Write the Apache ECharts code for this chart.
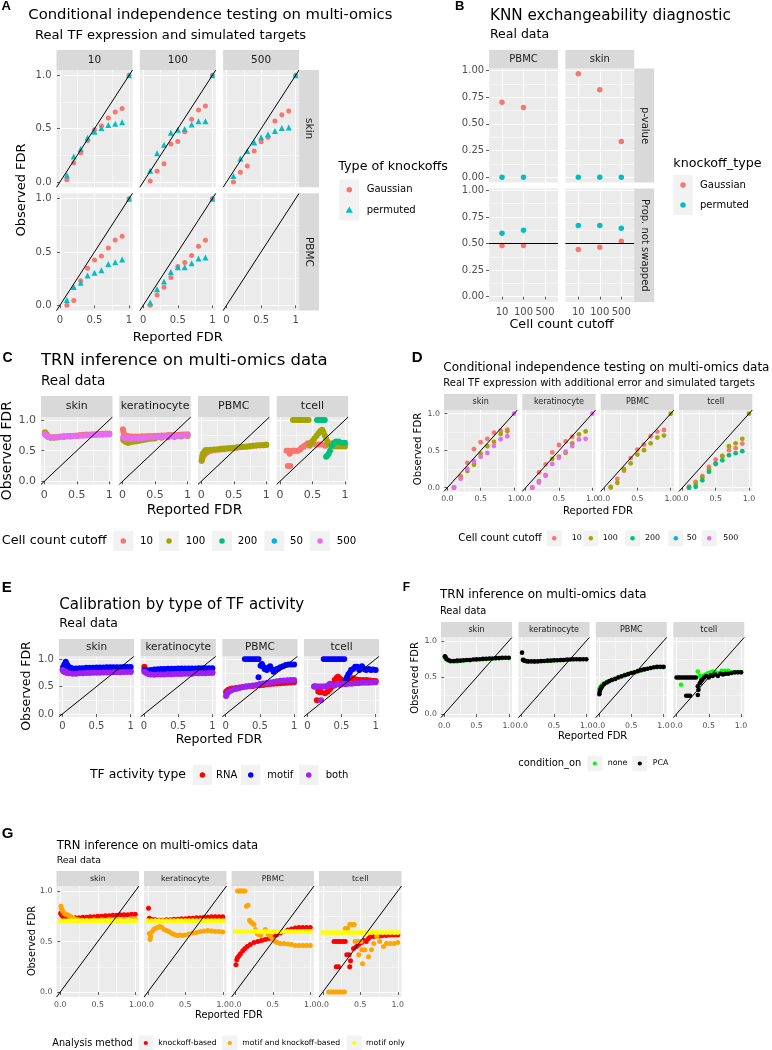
<!DOCTYPE html>
<html><head><meta charset="utf-8">
<script src="https://cdn.jsdelivr.net/npm/echarts@6/dist/echarts.min.js"></script>
<style>html,body{margin:0;padding:0;background:#fff}#c{width:772px;height:1050px}</style>
</head><body><div id="c"></div><script>
// ---------------- DATA ----------------
// Panel A : Conditional independence testing (x = reported FDR, y = observed FDR)
const A_cutoffs = ['10','100','500'];
const A_tissues = ['skin','PBMC'];
const A_knockoffTypes = ['Gaussian','permuted'];
const A_skin_10_gauss = [[0.1,0.02],[0.2,0.18],[0.3,0.275],[0.4,0.39],[0.5,0.49],[0.6,0.525],[0.7,0.6],[0.8,0.656],[0.9,0.688],[1.0,1.0]];
const A_skin_10_perm = [[0.1,0.0625],[0.2,0.24],[0.3,0.31],[0.4,0.415],[0.5,0.47],[0.6,0.505],[0.7,0.535],[0.8,0.545],[0.9,0.56],[1.0,1.0]];
const A_skin_100_gauss = [[0.1,0.01],[0.2,0.1],[0.3,0.17],[0.4,0.356],[0.5,0.38],[0.6,0.47],[0.7,0.587],[0.8,0.675],[0.9,0.712],[1.0,1.0]];
const A_skin_100_perm = [[0.1,0.106],[0.2,0.27],[0.3,0.35],[0.4,0.4625],[0.5,0.49],[0.6,0.497],[0.7,0.54],[0.8,0.57],[0.9,0.57],[1.0,1.0]];
const A_skin_500_gauss = [[0.1,0.0],[0.2,0.09],[0.3,0.15],[0.4,0.29],[0.5,0.378],[0.6,0.42],[0.7,0.572],[0.8,0.63],[0.9,0.666],[1.0,1.0]];
const A_skin_500_perm = [[0.1,0.056],[0.2,0.22],[0.3,0.29],[0.4,0.37],[0.5,0.42],[0.6,0.447],[0.7,0.478],[0.8,0.506],[0.9,0.51],[1.0,1.0]];
const A_PBMC_10_gauss = [[0.1,0.0],[0.2,0.044],[0.3,0.23],[0.4,0.347],[0.5,0.425],[0.6,0.4625],[0.7,0.5375],[0.8,0.6125],[0.9,0.647],[1.0,1.0]];
const A_PBMC_10_perm = [[0.1,0.05],[0.2,0.172],[0.3,0.21],[0.4,0.28],[0.5,0.306],[0.6,0.328],[0.7,0.3875],[0.8,0.403],[0.9,0.43],[1.0,1.0]];
const A_PBMC_100_gauss = [[0.1,0.0],[0.2,0.097],[0.3,0.169],[0.4,0.26],[0.5,0.3625],[0.6,0.4],[0.7,0.466],[0.8,0.553],[0.9,0.61],[1.0,1.0]];
const A_PBMC_100_perm = [[0.1,0.025],[0.2,0.15],[0.3,0.222],[0.4,0.3125],[0.5,0.356],[0.6,0.356],[0.7,0.394],[0.8,0.4375],[0.9,0.447],[1.0,1.0]];

// Panel B : KNN exchangeability diagnostic
const B_cutoffs = ['10','100','500'];
const B_tissues = ['PBMC','skin'];
const B_rows = ['p-value','Prop. not swapped'];
const B_pval_PBMC_gauss = [['10',0.703],['100',0.653]];
const B_pval_PBMC_perm = [['10',0.0],['100',0.0]];
const B_pval_skin_gauss = [['10',0.969],['100',0.819],['500',0.334]];
const B_pval_skin_perm = [['10',0.0],['100',0.0],['500',0.0]];
const B_prop_PBMC_gauss = [['10',0.481],['100',0.481]];
const B_prop_PBMC_perm = [['10',0.597],['100',0.626]];
const B_prop_skin_gauss = [['10',0.443],['100',0.465],['500',0.522]];
const B_prop_skin_perm = [['10',0.67],['100',0.67],['500',0.645]];
const B_refLevel = 0.5;

// Panel C : TRN inference, by cell count cutoff
const cellTypes = ['skin','keratinocyte','PBMC','tcell'];
const C_levels = ['10','100','200','50','500'];
const C_skin_10 = [[0.01,0.78],[0.03,0.76],[0.05,0.74],[0.08,0.725],[0.1,0.72],[0.15,0.72],[0.2,0.725],[0.25,0.73],[0.3,0.735],[0.35,0.74],[0.4,0.74],[0.45,0.745],[0.5,0.75],[0.55,0.755],[0.6,0.76],[0.65,0.765],[0.7,0.765],[0.75,0.77],[0.8,0.77],[0.85,0.775],[0.9,0.775],[0.95,0.78],[1.0,0.78]];
const C_skin_100 = [[0.01,0.80],[0.02,0.79],[0.04,0.76],[0.07,0.72],[0.1,0.71],[0.15,0.71],[0.2,0.715],[0.3,0.725],[0.4,0.73],[0.5,0.74],[0.6,0.75],[0.7,0.755],[0.8,0.76],[0.9,0.765],[1.0,0.77]];
const C_skin_500 = [[0.01,0.77],[0.03,0.75],[0.05,0.73],[0.08,0.72],[0.1,0.715],[0.15,0.715],[0.2,0.72],[0.25,0.725],[0.3,0.73],[0.35,0.73],[0.4,0.735],[0.45,0.74],[0.5,0.74],[0.55,0.745],[0.6,0.75],[0.65,0.75],[0.7,0.755],[0.75,0.755],[0.8,0.76],[0.85,0.76],[0.9,0.765],[0.95,0.765],[1.0,0.77]];
const C_ker_10 = [[0.005,0.85],[0.01,0.82],[0.02,0.78],[0.04,0.75],[0.07,0.74],[0.1,0.735],[0.15,0.73],[0.2,0.73],[0.25,0.73],[0.3,0.735],[0.35,0.735],[0.4,0.74],[0.45,0.74],[0.5,0.745],[0.55,0.745],[0.6,0.75],[0.65,0.75],[0.7,0.755],[0.75,0.755],[0.8,0.76],[0.85,0.76],[0.9,0.765],[0.95,0.765],[1.0,0.77]];
const C_ker_100 = [[0.01,0.68],[0.03,0.66],[0.05,0.64],[0.08,0.63],[0.1,0.63],[0.15,0.64],[0.2,0.65],[0.25,0.66],[0.3,0.67],[0.35,0.68],[0.4,0.69],[0.45,0.695],[0.5,0.70],[0.6,0.71],[0.7,0.72],[0.8,0.725],[0.9,0.73],[1.0,0.74]];
const C_ker_500 = [[0.01,0.72],[0.03,0.71],[0.05,0.70],[0.08,0.695],[0.1,0.695],[0.15,0.695],[0.2,0.70],[0.25,0.70],[0.3,0.705],[0.35,0.71],[0.4,0.715],[0.45,0.715],[0.5,0.72],[0.55,0.725],[0.6,0.725],[0.65,0.73],[0.7,0.735],[0.75,0.735],[0.8,0.74],[0.85,0.74],[0.9,0.745],[0.95,0.75],[1.0,0.75]];
const C_PBMC_10 = [[0.005,0.33],[0.01,0.36],[0.02,0.39],[0.03,0.41],[0.05,0.44],[0.07,0.46],[0.1,0.48],[0.15,0.5],[0.2,0.51],[0.25,0.515],[0.3,0.52],[0.35,0.525],[0.4,0.53],[0.45,0.535],[0.5,0.54],[0.55,0.55],[0.6,0.555],[0.65,0.56],[0.7,0.565],[0.75,0.57],[0.8,0.58],[0.85,0.585],[0.9,0.59],[0.95,0.595],[1.0,0.6]];
const C_PBMC_100 = [[0.01,0.35],[0.015,0.4],[0.02,0.43],[0.03,0.46],[0.05,0.49],[0.07,0.51],[0.1,0.51],[0.15,0.515],[0.2,0.52],[0.25,0.525],[0.3,0.53],[0.35,0.535],[0.4,0.54],[0.45,0.545],[0.5,0.55],[0.55,0.555],[0.6,0.56],[0.65,0.565],[0.7,0.57],[0.75,0.575],[0.8,0.58],[0.85,0.585],[0.9,0.59],[0.95,0.59],[1.0,0.595]];
const C_tcell_10 = [[0.1,0.5],[0.13,0.5],[0.15,0.45],[0.12,0.25],[0.16,0.25],[0.18,0.5],[0.2,0.5],[0.22,0.5],[0.25,0.5],[0.28,0.5],[0.31,0.52],[0.33,0.55],[0.36,0.56],[0.38,0.58],[0.41,0.6],[0.43,0.62],[0.46,0.58],[0.5,0.62],[0.55,0.6],[0.6,0.6],[0.65,0.6],[0.7,0.58],[0.75,0.6],[0.8,0.62],[0.85,0.62],[0.9,0.6],[0.95,0.6],[1.0,0.6]];
const C_tcell_100 = [[0.2,1.0],[0.23,1.0],[0.26,1.0],[0.29,1.0],[0.32,1.0],[0.35,1.0],[0.38,1.0],[0.41,1.0],[0.44,1.0],[0.46,0.6],[0.48,0.63],[0.5,0.66],[0.53,0.7],[0.56,0.74],[0.59,0.78],[0.62,0.82],[0.65,0.84],[0.67,0.8],[0.69,0.75],[0.71,0.7],[0.73,0.65],[0.75,0.6],[0.8,0.58],[0.85,0.57],[0.9,0.57],[0.95,0.57],[1.0,0.57]];
const C_tcell_200 = [[0.57,1.0],[0.6,1.0],[0.63,1.0],[0.66,1.0],[0.69,1.0],[0.71,0.4],[0.73,0.42],[0.75,0.45],[0.77,0.5],[0.8,0.58],[0.83,0.62],[0.86,0.65],[0.9,0.65],[0.95,0.63],[1.0,0.63]];

// Panel D : Conditional independence testing with additional error
const D_skin_10 = [[0.1,0.0],[0.2,0.157],[0.3,0.336],[0.4,0.52],[0.5,0.614],[0.6,0.66],[0.7,0.744],[0.8,0.771],[0.9,0.785]];
const D_skin_100 = [[0.1,0.0],[0.2,0.14],[0.3,0.224],[0.4,0.31],[0.5,0.46],[0.6,0.56],[0.7,0.62],[0.8,0.726],[0.9,0.762]];
const D_skin_500 = [[0.1,0.005],[0.2,0.12],[0.3,0.255],[0.4,0.36],[0.5,0.417],[0.6,0.47],[0.7,0.565],[0.8,0.655],[0.9,0.695],[1.0,1.0]];
const D_ker_10 = [[0.1,0.0],[0.2,0.207],[0.3,0.315],[0.4,0.477],[0.5,0.577],[0.6,0.626],[0.7,0.689]];
const D_ker_100 = [[0.1,0.0],[0.2,0.09],[0.3,0.17],[0.4,0.39],[0.5,0.42],[0.6,0.47],[0.7,0.6],[0.8,0.72],[0.9,0.76]];
const D_ker_500 = [[0.1,0.0],[0.2,0.07],[0.3,0.16],[0.4,0.32],[0.5,0.405],[0.6,0.486],[0.7,0.563],[0.8,0.652],[0.9,0.66],[1.0,1.0]];
const D_PBMC_10 = [[0.1,0.0],[0.2,0.12],[0.3,0.23],[0.4,0.4],[0.5,0.515],[0.6,0.583],[0.7,0.695],[0.8,0.758],[0.9,0.78]];
const D_PBMC_100 = [[0.1,0.01],[0.2,0.067],[0.3,0.25],[0.4,0.33],[0.5,0.448],[0.6,0.507],[0.7,0.6],[0.8,0.677],[0.9,0.704],[1.0,1.0]];
const D_tcell_10 = [[0.1,0.013],[0.2,0.08],[0.3,0.157],[0.4,0.28],[0.5,0.38],[0.6,0.42],[0.7,0.507],[0.8,0.534],[0.9,0.596]];
const D_tcell_100 = [[0.1,0.0],[0.2,0.05],[0.3,0.14],[0.4,0.25],[0.5,0.33],[0.6,0.43],[0.7,0.56],[0.8,0.6],[0.9,0.66],[1.0,1.0]];
const D_tcell_200 = [[0.1,0.0],[0.2,0.013],[0.3,0.1],[0.4,0.215],[0.5,0.32],[0.6,0.37],[0.7,0.44],[0.8,0.466],[0.9,0.493]];

// Panel E : Calibration by type of TF activity
const E_levels = ['RNA','motif','both'];
const E_skin_RNA = [[0.005,0.8],[0.02,0.78],[0.05,0.76],[0.1,0.75],[0.2,0.75],[0.3,0.755],[0.4,0.76],[0.5,0.765],[0.6,0.77],[0.7,0.77],[0.8,0.775],[0.9,0.78],[1.0,0.78]];
const E_skin_motif = [[0.01,0.85],[0.03,0.9],[0.05,0.95],[0.07,0.9],[0.09,0.86],[0.12,0.84],[0.15,0.83],[0.2,0.83],[0.25,0.835],[0.3,0.835],[0.35,0.84],[0.4,0.84],[0.45,0.84],[0.5,0.845],[0.55,0.845],[0.6,0.845],[0.65,0.85],[0.7,0.85],[0.75,0.85],[0.8,0.85],[0.85,0.85],[0.9,0.855],[0.95,0.855],[1.0,0.855]];
const E_skin_both = [[0.005,0.80],[0.02,0.78],[0.04,0.76],[0.07,0.745],[0.1,0.74],[0.15,0.735],[0.2,0.735],[0.25,0.74],[0.3,0.74],[0.35,0.745],[0.4,0.745],[0.45,0.75],[0.5,0.75],[0.55,0.75],[0.6,0.755],[0.65,0.755],[0.7,0.755],[0.75,0.76],[0.8,0.76],[0.85,0.76],[0.9,0.765],[0.95,0.765],[1.0,0.765]];
const E_ker_RNA = [[0.005,0.86],[0.015,0.8],[0.03,0.77],[0.06,0.75],[0.1,0.745],[0.2,0.74],[0.3,0.74],[0.4,0.745],[0.5,0.745],[0.6,0.75],[0.7,0.75],[0.8,0.755],[0.9,0.755],[1.0,0.76]];
const E_ker_motif = [[0.005,0.8],[0.03,0.79],[0.06,0.79],[0.1,0.8],[0.15,0.81],[0.2,0.815],[0.25,0.82],[0.3,0.82],[0.35,0.825],[0.4,0.825],[0.45,0.825],[0.5,0.83],[0.55,0.83],[0.6,0.83],[0.65,0.83],[0.7,0.83],[0.75,0.83],[0.8,0.835],[0.85,0.835],[0.9,0.835],[0.95,0.835],[1.0,0.835]];
const E_ker_both = [[0.005,0.77],[0.02,0.76],[0.04,0.74],[0.07,0.725],[0.1,0.72],[0.15,0.715],[0.2,0.72],[0.25,0.72],[0.3,0.72],[0.35,0.725],[0.4,0.725],[0.45,0.73],[0.5,0.73],[0.55,0.73],[0.6,0.735],[0.65,0.735],[0.7,0.735],[0.75,0.74],[0.8,0.74],[0.85,0.74],[0.9,0.74],[0.95,0.745],[1.0,0.745]];
const E_PBMC_RNA = [[0.005,0.4],[0.02,0.42],[0.04,0.44],[0.07,0.455],[0.1,0.465],[0.15,0.475],[0.2,0.485],[0.25,0.49],[0.3,0.5],[0.35,0.505],[0.4,0.51],[0.45,0.52],[0.5,0.525],[0.55,0.53],[0.6,0.54],[0.65,0.545],[0.7,0.55],[0.75,0.555],[0.8,0.56],[0.85,0.565],[0.9,0.57],[0.95,0.575],[1.0,0.58]];
const E_PBMC_motif = [[0.28,1],[0.31,1],[0.34,1],[0.37,1],[0.4,1],[0.43,1],[0.46,1],[0.48,1],[0.48,0.67],[0.51,0.88],[0.53,0.91],[0.55,0.86],[0.57,0.82],[0.6,0.8],[0.62,0.84],[0.65,0.87],[0.67,0.82],[0.7,0.77],[0.72,0.8],[0.75,0.82],[0.77,0.83],[0.8,0.85],[0.84,0.87],[0.88,0.89],[0.92,0.9],[0.96,0.9],[1.0,0.9]];
const E_PBMC_both = [[0.005,0.33],[0.015,0.36],[0.03,0.39],[0.05,0.41],[0.08,0.43],[0.12,0.45],[0.16,0.46],[0.2,0.475],[0.25,0.49],[0.3,0.5],[0.35,0.51],[0.4,0.52],[0.45,0.53],[0.5,0.545],[0.55,0.555],[0.6,0.565],[0.65,0.575],[0.7,0.585],[0.75,0.595],[0.8,0.605],[0.85,0.61],[0.9,0.615],[0.95,0.62],[1.0,0.62]];
const E_tcell_RNA = [[0.1,0.5],[0.12,0.5],[0.14,0.25],[0.16,0.41],[0.18,0.4],[0.2,0.4],[0.26,0.38],[0.3,0.41],[0.33,0.45],[0.36,0.5],[0.38,0.55],[0.4,0.62],[0.43,0.66],[0.45,0.68],[0.48,0.64],[0.5,0.62],[0.55,0.6],[0.58,0.59],[0.62,0.62],[0.67,0.65],[0.72,0.63],[0.77,0.62],[0.82,0.62],[0.87,0.62],[0.92,0.61],[0.96,0.6],[1.0,0.6]];
const E_tcell_motif = [[0.24,1],[0.27,1],[0.3,1],[0.33,1],[0.36,1],[0.39,1],[0.42,1],[0.45,1],[0.48,1],[0.51,1],[0.54,1],[0.56,0.62],[0.58,0.67],[0.6,0.72],[0.62,0.75],[0.64,0.8],[0.67,0.82],[0.7,0.86],[0.73,0.86],[0.76,0.8],[0.78,0.84],[0.8,0.87],[0.83,0.82],[0.86,0.8],[0.9,0.82],[0.93,0.8],[0.96,0.81],[1.0,0.8]];
const E_tcell_both = [[0.1,0.5],[0.13,0.5],[0.16,0.5],[0.19,0.5],[0.2,0.25],[0.22,0.5],[0.25,0.5],[0.28,0.5],[0.3,0.52],[0.33,0.55],[0.36,0.53],[0.4,0.52],[0.44,0.55],[0.48,0.53],[0.52,0.55],[0.56,0.54],[0.6,0.55],[0.65,0.55],[0.7,0.56],[0.75,0.56],[0.8,0.57],[0.85,0.57],[0.9,0.57],[0.95,0.575],[1.0,0.58]];

// Panel F : condition_on
const F_levels = ['none','PCA'];
const F_skin_none = [[0.01,0.77],[0.03,0.75],[0.06,0.735],[0.1,0.72],[0.15,0.72],[0.2,0.72],[0.3,0.73],[0.4,0.735],[0.5,0.74],[0.6,0.75],[0.7,0.755],[0.8,0.76],[0.9,0.765],[1.0,0.765]];
const F_skin_PCA = [[0.01,0.79],[0.02,0.78],[0.04,0.75],[0.07,0.735],[0.1,0.725],[0.15,0.725],[0.2,0.73],[0.25,0.73],[0.3,0.735],[0.35,0.74],[0.4,0.74],[0.45,0.745],[0.5,0.75],[0.55,0.75],[0.6,0.755],[0.65,0.755],[0.7,0.76],[0.75,0.76],[0.8,0.765],[0.85,0.765],[0.9,0.77],[0.95,0.77],[1.0,0.77]];
const F_ker_none = [[0.02,0.75],[0.04,0.73],[0.07,0.72],[0.1,0.715],[0.2,0.715],[0.3,0.72],[0.4,0.725],[0.5,0.73],[0.6,0.735],[0.7,0.74],[0.8,0.745],[0.9,0.745],[1.0,0.75]];
const F_ker_PCA = [[0.005,0.84],[0.02,0.74],[0.04,0.73],[0.07,0.725],[0.1,0.72],[0.15,0.72],[0.2,0.72],[0.25,0.72],[0.3,0.725],[0.35,0.725],[0.4,0.73],[0.45,0.73],[0.5,0.735],[0.55,0.735],[0.6,0.74],[0.65,0.74],[0.7,0.745],[0.75,0.745],[0.8,0.75],[0.85,0.75],[0.9,0.75],[0.95,0.75],[1.0,0.75]];
const F_PBMC_none = [[0.005,0.34],[0.015,0.36],[0.03,0.38],[0.05,0.4],[0.08,0.42],[0.12,0.44],[0.2,0.47],[0.3,0.505],[0.4,0.535],[0.5,0.56],[0.55,0.575],[0.6,0.59],[0.65,0.6],[0.7,0.61],[0.8,0.63],[0.9,0.64],[1.0,0.64]];
const F_PBMC_PCA = [[0.005,0.27],[0.01,0.3],[0.02,0.33],[0.035,0.36],[0.05,0.38],[0.08,0.41],[0.12,0.43],[0.16,0.45],[0.2,0.465],[0.25,0.48],[0.3,0.5],[0.35,0.515],[0.4,0.53],[0.45,0.545],[0.5,0.56],[0.55,0.57],[0.6,0.585],[0.65,0.6],[0.7,0.61],[0.75,0.62],[0.8,0.63],[0.85,0.64],[0.9,0.645],[0.95,0.645],[1.0,0.645]];
const F_tcell_none = [[0.07,0.4],[0.33,0.58],[0.36,0.52],[0.38,0.48],[0.41,0.52],[0.45,0.54],[0.49,0.56],[0.53,0.57],[0.56,0.58],[0.6,0.57],[0.65,0.56],[0.7,0.59],[0.75,0.59],[0.8,0.59],[0.85,0.57],[0.9,0.57],[0.95,0.575],[1.0,0.575]];
const F_tcell_PCA = [[0.0,0.5],[0.03,0.5],[0.06,0.5],[0.09,0.5],[0.12,0.5],[0.15,0.5],[0.18,0.5],[0.21,0.5],[0.24,0.5],[0.27,0.5],[0.3,0.5],[0.15,0.25],[0.18,0.25],[0.21,0.25],[0.33,0.38],[0.34,0.33],[0.33,0.26],[0.36,0.42],[0.38,0.45],[0.4,0.47],[0.43,0.5],[0.46,0.52],[0.5,0.5],[0.53,0.53],[0.56,0.52],[0.6,0.54],[0.64,0.52],[0.68,0.55],[0.72,0.54],[0.76,0.55],[0.8,0.55],[0.85,0.56],[0.9,0.57],[0.95,0.57],[1.0,0.57]];

// Panel G : Analysis method
const G_levels = ['knockoff-based','motif and knockoff-based','motif only'];
const G_skin_ko = [[0.005,0.78],[0.02,0.76],[0.04,0.745],[0.07,0.735],[0.1,0.73],[0.15,0.73],[0.2,0.735],[0.25,0.735],[0.3,0.74],[0.35,0.74],[0.4,0.745],[0.45,0.745],[0.5,0.75],[0.55,0.75],[0.6,0.755],[0.65,0.755],[0.7,0.76],[0.75,0.76],[0.8,0.765],[0.85,0.765],[0.9,0.765],[0.95,0.77],[1.0,0.77]];
const G_skin_mk = [[0.01,0.85],[0.02,0.82],[0.035,0.8],[0.05,0.78],[0.07,0.77],[0.09,0.765],[0.11,0.76],[0.13,0.75],[0.15,0.74],[0.18,0.73],[0.21,0.72],[0.24,0.715],[0.28,0.71],[0.35,0.71],[0.45,0.715],[0.55,0.715],[0.65,0.72],[0.75,0.72],[0.85,0.72],[0.95,0.72],[1.0,0.72]];
const G_skin_mo = [[0.0,0.705],[0.05,0.705],[0.1,0.705],[0.15,0.705],[0.2,0.705],[0.25,0.705],[0.3,0.705],[0.35,0.705],[0.4,0.705],[0.45,0.705],[0.5,0.705],[0.55,0.705],[0.6,0.705],[0.65,0.705],[0.7,0.705],[0.75,0.705],[0.8,0.705],[0.85,0.705],[0.9,0.705],[0.95,0.705],[1.0,0.705]];
const G_ker_ko = [[0.01,0.83],[0.02,0.73],[0.04,0.72],[0.07,0.715],[0.1,0.715],[0.15,0.71],[0.2,0.71],[0.25,0.715],[0.3,0.715],[0.35,0.72],[0.4,0.72],[0.45,0.725],[0.5,0.725],[0.55,0.73],[0.6,0.73],[0.65,0.735],[0.7,0.735],[0.75,0.74],[0.8,0.74],[0.85,0.745],[0.9,0.745],[0.95,0.745],[1.0,0.745]];
const G_ker_mk = [[0.02,0.58],[0.03,0.52],[0.04,0.55],[0.06,0.6],[0.08,0.62],[0.1,0.63],[0.13,0.64],[0.16,0.65],[0.19,0.64],[0.22,0.62],[0.25,0.61],[0.28,0.6],[0.31,0.585],[0.34,0.575],[0.37,0.565],[0.4,0.56],[0.43,0.565],[0.46,0.56],[0.5,0.565],[0.55,0.575],[0.6,0.585],[0.65,0.59],[0.7,0.6],[0.75,0.605],[0.8,0.61],[0.85,0.605],[0.9,0.6],[0.95,0.6],[1.0,0.595]];
const G_ker_mo = [[0.0,0.705],[0.05,0.705],[0.1,0.705],[0.15,0.705],[0.2,0.705],[0.25,0.705],[0.3,0.705],[0.35,0.705],[0.4,0.705],[0.45,0.705],[0.5,0.705],[0.55,0.705],[0.6,0.705],[0.65,0.705],[0.7,0.705],[0.75,0.705],[0.8,0.705],[0.85,0.705],[0.9,0.705],[0.95,0.705],[1.0,0.705]];
const G_PBMC_ko = [[0.01,0.27],[0.02,0.32],[0.03,0.34],[0.05,0.36],[0.07,0.38],[0.1,0.41],[0.13,0.43],[0.16,0.45],[0.2,0.47],[0.25,0.49],[0.3,0.5],[0.35,0.51],[0.4,0.52],[0.45,0.53],[0.5,0.545],[0.55,0.565],[0.6,0.585],[0.65,0.6],[0.7,0.615],[0.75,0.625],[0.8,0.635],[0.85,0.64],[0.9,0.64],[0.95,0.64],[1.0,0.64]];
const G_PBMC_mk = [[0.03,1.0],[0.05,1.0],[0.07,1.0],[0.09,1.0],[0.11,1.0],[0.13,1.0],[0.15,0.85],[0.17,0.86],[0.19,0.71],[0.21,0.69],[0.23,0.68],[0.25,0.67],[0.27,0.62],[0.29,0.58],[0.31,0.57],[0.34,0.56],[0.37,0.6],[0.4,0.62],[0.42,0.6],[0.44,0.57],[0.47,0.55],[0.5,0.52],[0.53,0.5],[0.56,0.49],[0.6,0.48],[0.65,0.48],[0.7,0.475],[0.75,0.47],[0.8,0.46],[0.85,0.46],[0.9,0.46],[0.95,0.46],[1.0,0.46]];
const G_PBMC_mo = [[0.0,0.6],[0.05,0.6],[0.1,0.6],[0.15,0.6],[0.2,0.6],[0.25,0.6],[0.3,0.6],[0.35,0.6],[0.4,0.6],[0.45,0.6],[0.5,0.6],[0.55,0.6],[0.6,0.6],[0.65,0.6],[0.7,0.6],[0.75,0.6],[0.8,0.6],[0.85,0.6],[0.9,0.6],[0.95,0.6],[1.0,0.6]];
const G_tcell_ko = [[0.15,0.5],[0.18,0.5],[0.21,0.5],[0.24,0.5],[0.27,0.5],[0.3,0.5],[0.18,0.25],[0.21,0.25],[0.32,0.37],[0.35,0.37],[0.37,0.31],[0.36,0.25],[0.41,0.43],[0.45,0.45],[0.48,0.47],[0.52,0.49],[0.55,0.51],[0.58,0.5],[0.61,0.53],[0.64,0.55],[0.68,0.55],[0.72,0.56],[0.76,0.555],[0.8,0.56],[0.85,0.56],[0.9,0.565],[0.95,0.565],[1.0,0.565]];
const G_tcell_mk = [[0.08,0.0],[0.11,0.0],[0.14,0.0],[0.17,0.0],[0.2,0.0],[0.23,0.0],[0.26,0.0],[0.29,0.0],[0.3,0.63],[0.33,0.63],[0.36,0.67],[0.39,0.67],[0.42,0.67],[0.43,0.5],[0.47,0.5],[0.51,0.5],[0.52,0.42],[0.56,0.42],[0.48,0.37],[0.53,0.28],[0.61,0.35],[0.65,0.42],[0.68,0.48],[0.72,0.55],[0.76,0.5],[0.81,0.45],[0.85,0.48],[0.9,0.48],[0.95,0.48],[1.0,0.49]];
const G_tcell_mo = [[0.0,0.59],[0.05,0.59],[0.1,0.59],[0.15,0.59],[0.2,0.59],[0.25,0.59],[0.3,0.59],[0.35,0.59],[0.4,0.59],[0.45,0.59],[0.5,0.59],[0.55,0.59],[0.6,0.59],[0.65,0.59],[0.7,0.59],[0.75,0.59],[0.8,0.59],[0.85,0.59],[0.9,0.59],[0.95,0.59],[1.0,0.59]];

const identityLine = [[-0.05,-0.05],[1.05,1.05]];

// ---------------- BUILD ----------------
const FONT = 'DejaVu Sans';
const HUE2 = ['#F8766D','#00BFC4'];
const HUE5 = ['#F8766D','#A3A500','#00BF7D','#00B0F6','#E76BF3'];
const E_COL = ['#FF0000','#0000FF','#A020F0'];
const F_COL = ['#00FF00','#000000'];
const G_COL = ['#FF0000','#FFA500','#FFFF00'];
const grids=[], xAxes=[], yAxes=[], series=[], graphics=[];

const fmt1 = v => v.toFixed(1);
const fmtG = v => (Math.abs(v)<1e-9?'0':(Math.abs(v-1)<1e-9?'1':String(+v.toFixed(2))));
const fmt2 = v => v.toFixed(2);

function ticksOf(a){ const t=[]; let k=Math.ceil(a.min/a.step-1e-9); for(let v=k*a.step; v<=a.max+1e-9; k++, v=k*a.step) t.push(+v.toFixed(6)); return t; }
function axis(gi, a){
  const ticks = ticksOf(a);
  const isT = v => ticks.some(t=>Math.abs(t-v)<1e-6);
  return {
    type:'value', gridIndex:gi, min:a.min, max:a.max, minInterval:a.step, maxInterval:a.step,
    splitNumber: Math.max(1, Math.round((a.max-a.min)/a.step)), silent:true,
    axisLine:{show:false},
    axisTick:{show:!!a.show, length:3, lineStyle:{color:'#333333', width:0.8}, customValues:ticks},
    axisLabel:{show:!!a.show, customValues:ticks, showMinLabel:true, showMaxLabel:true,
      formatter: v => isT(v) ? a.fmt(v) : '', color:'#4D4D4D', fontSize:a.fs, fontFamily:FONT, margin:a.margin==null?4:a.margin},
    splitLine:{show:true, lineStyle:{color:'#FFFFFF', width:1}},
    minorTick:{show:false, splitNumber:2},
    minorSplitLine:{show:a.minor!==false, lineStyle:{color:'#FFFFFF', width:0.5}}
  };
}
function addPanel(left, top, width, height, xa, ya){
  const gi = grids.length;
  grids.push({left, top, width, height, show:true, backgroundColor:'#EBEBEB', borderWidth:0, containLabel:false});
  xAxes.push(axis(gi, xa)); yAxes.push(axis(gi, ya));
  return gi;
}
function pts(gi, data, color, size, symbol){
  if(!data || !data.length) return;
  series.push({type:'scatter', xAxisIndex:gi, yAxisIndex:gi, data, symbol:symbol||'circle', symbolSize:size,
    itemStyle:{color, opacity:1, borderWidth:0}, silent:true, animation:false, clip:true, z:2});
}
function diag(gi){
  series.push({type:'line', xAxisIndex:gi, yAxisIndex:gi, data:identityLine, symbol:'none', showSymbol:false,
    lineStyle:{color:'#000000', width:1}, silent:true, animation:false, clip:true, z:4});
}
function T(x, y, text, fs, o){
  o = o||{};
  graphics.push({type:'text', x, y, rotation:o.rot||0, silent:true, z:10,
    style:{text, fill:o.color||'#000000', fontSize:fs, fontFamily:o.family||FONT, fontWeight:o.weight||'normal',
      align:o.align||'left', textAlign:o.align||'left', verticalAlign:'middle', textVerticalAlign:'middle'}});
}
function strip(x, y, w, h, text, fs, rot){
  graphics.push({type:'rect', silent:true, z:5, shape:{x, y, width:w, height:h}, style:{fill:'#D9D9D9'}});
  T(x+w/2, y+h/2, text, fs, {align:'center', rot:rot||0, color:'#1A1A1A'});
}
function key(x, y, w, h, color, size, tri){
  graphics.push({type:'rect', silent:true, z:5, shape:{x, y, width:w, height:h}, style:{fill:'#F2F2F2'}});
  const cx=x+w/2, cy=y+h/2, r=size/2;
  if(tri) graphics.push({type:'polygon', silent:true, z:6, shape:{points:[[cx,cy-r*1.15],[cx-r*1.1,cy+r*0.75],[cx+r*1.1,cy+r*0.75]]}, style:{fill:color}});
  else graphics.push({type:'circle', silent:true, z:6, shape:{cx, cy, r}, style:{fill:color}});
}
const LETTER = {family:'Liberation Sans', weight:'bold'};

// ----- Panel A -----
const A_data = {skin:{'10':[A_skin_10_gauss,A_skin_10_perm],'100':[A_skin_100_gauss,A_skin_100_perm],'500':[A_skin_500_gauss,A_skin_500_perm]},
                PBMC:{'10':[A_PBMC_10_gauss,A_PBMC_10_perm],'100':[A_PBMC_100_gauss,A_PBMC_100_perm],'500':[[],[]]}};
const A_cols=[56.5,139.8,223.1], A_w=76, A_tops=[70,193.3], A_h=117.3;
A_tissues.forEach((tis,r)=>A_cutoffs.forEach((cut,c)=>{
  const gi = addPanel(A_cols[c], A_tops[r], A_w, A_h,
    {min:-0.05,max:1.05,step:0.5,fmt:fmtG,fs:10,show:r===1,margin:5},
    {min:-0.05,max:1.05,step:0.5,fmt:fmt1,fs:10,show:c===0,margin:5});
  const d = A_data[tis][cut];
  pts(gi, d[0], HUE2[0], 5, 'circle');
  pts(gi, d[1], HUE2[1], 6, 'triangle');
  diag(gi);
  if(r===0) strip(A_cols[c], 50, A_w, 20, cut, 10.5);
  if(c===2) strip(A_cols[2]+A_w, A_tops[r], 20, A_h, tis, 10.5, -Math.PI/2);
}));
T(1.5, 6, 'A', 13, LETTER);
T(28.3, 15.5, 'Conditional independence testing on multi-omics', 14.8);
T(35, 35.7, 'Real TF expression and simulated targets', 13.1);
T(22, 190, 'Observed FDR', 13, {rot:Math.PI/2, align:'center'});
T(177.8, 338, 'Reported FDR', 13, {align:'center'});
T(338.3, 167, 'Type of knockoffs', 12.7);
key(339.3, 179.3, 20, 20.7, HUE2[0], 5.5, false);
key(339.3, 200, 20, 20.7, HUE2[1], 6.5, true);
T(366.7, 189.6, A_knockoffTypes[0], 10);
T(366.7, 210.3, A_knockoffTypes[1], 10);

// ----- Panel B -----
const B_data = {'p-value':{PBMC:[B_pval_PBMC_gauss,B_pval_PBMC_perm], skin:[B_pval_skin_gauss,B_pval_skin_perm]},
                'Prop. not swapped':{PBMC:[B_prop_PBMC_gauss,B_prop_PBMC_perm], skin:[B_prop_skin_gauss,B_prop_skin_perm]}};
const B_cols=[489.1,565.4], B_w=68.8, B_tops=[68.6,188.6], B_h=[114,113.4];
const toIdx = d => d.map(([c,v])=>[B_cutoffs.indexOf(c)+1, v]);
B_rows.forEach((rowName,r)=>B_tissues.forEach((tis,c)=>{
  const gi = addPanel(B_cols[c], B_tops[r], B_w, B_h[r],
    {min:0.4,max:3.6,step:1,fmt:v=>B_cutoffs[Math.round(v)-1]||'',fs:10,show:r===1,margin:5,minor:false},
    {min:-0.05,max:1.017,step:0.25,fmt:fmt2,fs:10,show:c===0,margin:5});
  const d = B_data[rowName][tis];
  pts(gi, toIdx(d[0]), HUE2[0], 5.5);
  pts(gi, toIdx(d[1]), HUE2[1], 5.5);
  if(r===1){
    series.push({type:'line', xAxisIndex:gi, yAxisIndex:gi, data:[], silent:true, animation:false, z:4,
      markLine:{silent:true, symbol:'none', animation:false, label:{show:false}, lineStyle:{color:'#000000', type:'solid', width:1}, data:[{yAxis:B_refLevel}]}});
  }
  if(r===0) strip(B_cols[c], 50, B_w, 18.6, tis, 10);
  if(c===1) strip(B_cols[1]+B_w, B_tops[r], 20, B_h[r], rowName, 10, -Math.PI/2);
}));
T(455, 6, 'B', 13, LETTER);
T(490, 15.8, 'KNN exchangeability diagnostic', 15.2);
T(490, 35, 'Real data', 12.5);
T(561.5, 325, 'Cell count cutoff', 12.7, {align:'center'});
T(673.3, 163.3, 'knockoff_type', 12.7);
key(673.3, 175, 19.4, 20, HUE2[0], 5.5, false);
key(673.3, 195, 19.4, 20, HUE2[1], 5.5, false);
T(700, 185, A_knockoffTypes[0], 10);
T(700, 205, A_knockoffTypes[1], 10);

// ----- Panel C -----
const C_data = {skin:[C_skin_10,C_skin_100,[],[],C_skin_500], keratinocyte:[C_ker_10,C_ker_100,[],[],C_ker_500],
                PBMC:[C_PBMC_10,C_PBMC_100,[],[],[]], tcell:[C_tcell_10,C_tcell_100,C_tcell_200,[],[]]};
const C_cols=[41,119.3,198,276.7], C_w=71.5;
cellTypes.forEach((ct,c)=>{
  const gi = addPanel(C_cols[c], 417, C_w, 67.4,
    {min:-0.05,max:1.05,step:0.5,fmt:fmtG,fs:11,show:true,margin:5},
    {min:-0.05,max:1.05,step:0.5,fmt:fmt1,fs:11,show:c===0,margin:5});
  C_data[ct].forEach((d,k)=>pts(gi, d, HUE5[k], 6));
  diag(gi);
  strip(C_cols[c], 396, C_w, 21, ct, 11);
});
T(2.5, 358, 'C', 14, LETTER);
T(41, 360.8, 'TRN inference on multi-omics data', 16.5);
T(41, 381.7, 'Real data', 13.6);
T(7, 450.7, 'Observed FDR', 13.8, {rot:Math.PI/2, align:'center'});
T(194.5, 510, 'Reported FDR', 13.8, {align:'center'});
T(1.7, 541, 'Cell count cutoff', 12.8);
[113.3,159,212,264.3,310].forEach((x,k)=>key(x, 531, 20, 20, HUE5[k], 5.5, false));
[140,185.7,237.7,290,336.7].forEach((x,k)=>T(x, 541, C_levels[k], 10.2));

// ----- Panel D -----
const D_data = {skin:[D_skin_10,D_skin_100,[],[],D_skin_500], keratinocyte:[D_ker_10,D_ker_100,[],[],D_ker_500],
                PBMC:[D_PBMC_10,D_PBMC_100,[],[],[]], tcell:[D_tcell_10,D_tcell_100,D_tcell_200,[],[]]};
const D_cols=[444,522.3,600.7,679], D_w=73.3;
cellTypes.forEach((ct,c)=>{
  const gi = addPanel(D_cols[c], 410, D_w, 81.4,
    {min:-0.05,max:1.05,step:0.5,fmt:fmt1,fs:7.8,show:true,margin:4},
    {min:-0.05,max:1.05,step:0.5,fmt:fmt1,fs:7.8,show:c===0,margin:4});
  D_data[ct].forEach((d,k)=>pts(gi, d, HUE5[k], 4.8));
  diag(gi);
  strip(D_cols[c], 394, D_w, 16, ct, 8);
});
T(411.7, 357.5, 'D', 15, LETTER);
T(443.3, 368.3, 'Conditional independence testing on multi-omics data', 12);
T(443.3, 383, 'Real TF expression with additional error and simulated targets', 10);
T(418, 449, 'Observed FDR', 10.1, {rot:Math.PI/2, align:'center'});
T(598, 511, 'Reported FDR', 10.1, {align:'center'});
T(458.3, 538.3, 'Cell count cutoff', 10.2);
[546.7,583.3,625,668.3,701.7].forEach((x,k)=>key(x, 530.3, 15, 16, HUE5[k], 4.5, false));
[571.7,602.7,645,686.7,723.3].forEach((x,k)=>T(x, 538.3, C_levels[k], 7.9));

// ----- Panel E -----
const E_data = {skin:[E_skin_RNA,E_skin_motif,E_skin_both], keratinocyte:[E_ker_RNA,E_ker_motif,E_ker_both],
                PBMC:[E_PBMC_RNA,E_PBMC_motif,E_PBMC_both], tcell:[E_tcell_RNA,E_tcell_motif,E_tcell_both]};
const E_cols=[58.9,140.6,222.3,303.9], E_w=75.2;
cellTypes.forEach((ct,c)=>{
  const gi = addPanel(E_cols[c], 656.3, E_w, 60.5,
    {min:-0.05,max:1.05,step:0.5,fmt:fmtG,fs:10,show:true,margin:5},
    {min:-0.05,max:1.05,step:0.5,fmt:fmt1,fs:10,show:c===0,margin:5});
  E_data[ct].forEach((d,k)=>pts(gi, d, E_COL[k], 6));
  diag(gi);
  strip(E_cols[c], 639, E_w, 17.3, ct, 10.5);
});
T(1.7, 588, 'E', 15, LETTER);
T(59.3, 605.2, 'Calibration by type of TF activity', 15);
T(59.3, 623.3, 'Real data', 12.4);
T(27, 686, 'Observed FDR', 12.5, {rot:Math.PI/2, align:'center'});
T(219, 740, 'Reported FDR', 12.5, {align:'center'});
T(90, 775, 'TF activity type', 12.4);
[192.7,241,299].forEach((x,k)=>key(x, 765, 19.5, 20, E_COL[k], 5.5, false));
[216,267.3,325.7].forEach((x,k)=>T(x, 775, E_levels[k], 10));

// ----- Panel F -----
const F_data = {skin:[F_skin_none,F_skin_PCA], keratinocyte:[F_ker_none,F_ker_PCA], PBMC:[F_PBMC_none,F_PBMC_PCA], tcell:[F_tcell_none,F_tcell_PCA]};
const F_cols=[441,518.5,595.8,673.3], F_w=71;
cellTypes.forEach((ct,c)=>{
  const gi = addPanel(F_cols[c], 637.3, F_w, 80.3,
    {min:-0.05,max:1.05,step:0.5,fmt:fmt1,fs:7.8,show:true,margin:4},
    {min:-0.05,max:1.05,step:0.5,fmt:fmt1,fs:7.8,show:c===0,margin:4});
  F_data[ct].forEach((d,k)=>pts(gi, d, F_COL[k], 4.6));
  diag(gi);
  strip(F_cols[c], 622, F_w, 15.3, ct, 8);
});
T(402.7, 587.5, 'F', 12, LETTER);
T(440, 595.2, 'TRN inference on multi-omics data', 11.9);
T(440, 611.3, 'Real data', 9.8);
T(415, 678, 'Observed FDR', 10, {rot:Math.PI/2, align:'center'});
T(592.7, 736.5, 'Reported FDR', 10, {align:'center'});
T(518.3, 763.3, 'condition_on', 9.9);
[587.3,632.3].forEach((x,k)=>key(x, 756, 15, 15, F_COL[k], 4.2, false));
[607.7,652.7].forEach((x,k)=>T(x, 763.3, F_levels[k], 7.9));

// ----- Panel G -----
const G_data = {skin:[G_skin_ko,G_skin_mk,G_skin_mo], keratinocyte:[G_ker_ko,G_ker_mk,G_ker_mo], PBMC:[G_PBMC_ko,G_PBMC_mk,G_PBMC_mo], tcell:[G_tcell_ko,G_tcell_mk,G_tcell_mo]};
const G_cols=[56.5,144,231.5,319], G_w=82.5;
cellTypes.forEach((ct,c)=>{
  const gi = addPanel(G_cols[c], 886, G_w, 111.1,
    {min:-0.05,max:1.05,step:0.5,fmt:fmt1,fs:7.8,show:true,margin:4},
    {min:-0.05,max:1.05,step:0.5,fmt:fmt1,fs:7.8,show:c===0,margin:4});
  G_data[ct].forEach((d,k)=>pts(gi, d, G_COL[k], 5));
  diag(gi);
  strip(G_cols[c], 871, G_w, 15, ct, 7.8);
});
T(1.7, 834, 'G', 15, LETTER);
T(56.7, 845.8, 'TRN inference on multi-omics data', 11.6);
T(56.7, 860.5, 'Real data', 9.4);
T(32, 941, 'Observed FDR', 9.8, {rot:Math.PI/2, align:'center'});
T(229, 1015, 'Reported FDR', 9.8, {align:'center'});
T(52.3, 1043, 'Analysis method', 9.7);
[138.3,222.3,346.7].forEach((x,k)=>key(x, 1035.5, 15, 15, G_COL[k], 4.2, false));
[158.3,242.3,366].forEach((x,k)=>T(x, 1043, G_levels[k], 7.7));

const chart = echarts.init(document.getElementById('c'), null, {renderer:'canvas', width:772, height:1050});
chart.setOption({animation:false, backgroundColor:'#FFFFFF', textStyle:{fontFamily:FONT},
  grid:grids, xAxis:xAxes, yAxis:yAxes, series, graphic:{elements:graphics}});
</script></body></html>
